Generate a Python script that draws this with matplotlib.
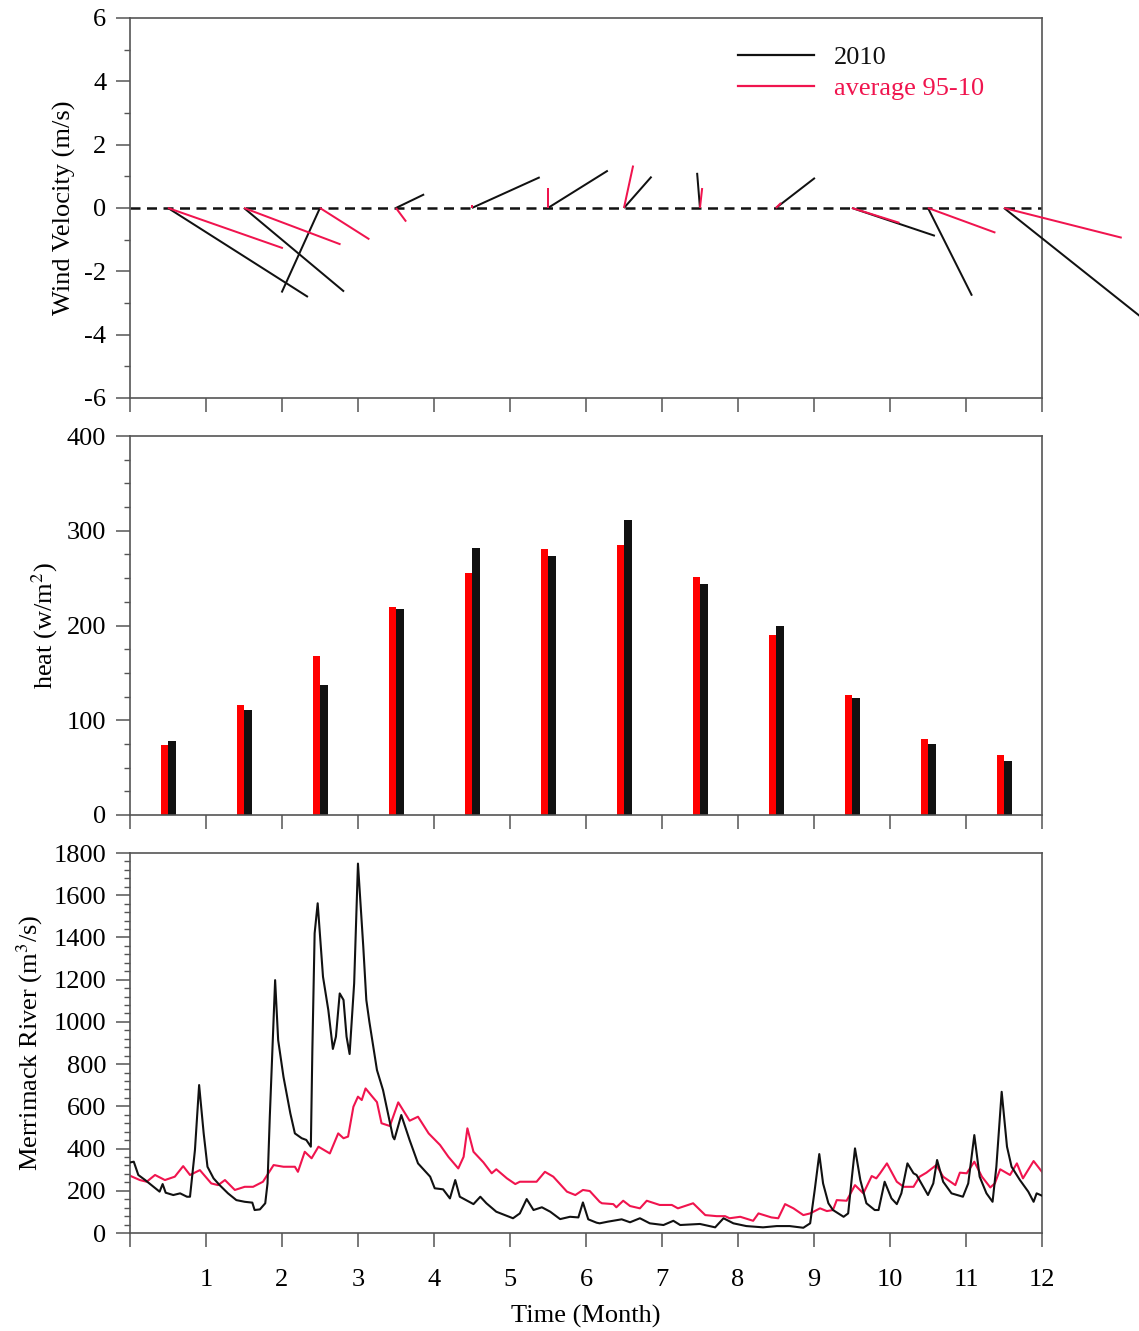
import numpy as np
import matplotlib
matplotlib.use("Agg")
import matplotlib.pyplot as plt
from matplotlib.ticker import MultipleLocator

plt.rcParams['font.family'] = ['Liberation Serif', 'DejaVu Serif']
plt.rcParams['font.size'] = 19
plt.rcParams['mathtext.fontset'] = 'stix'
plt.rcParams['axes.unicode_minus'] = False

black = '#111111'
red_line = '#F0144E'
red_bar = '#FF0000'
spine_col = '#555555'

# --- wind (monthly mean vectors, m/s) ---
wind_months = np.arange(1, 13) - 0.5
u_2010 = [4.42, 3.16, -1.21, 0.89, 2.14, 1.89, 0.87, -0.09, 1.23, 2.62, 1.39, 4.40]
v_2010 = [-2.81, -2.64, -2.67, 0.43, 0.97, 1.18, 0.99, 1.11, 0.95, -0.88, -2.77, -3.50]
u_avg = [3.63, 3.05, 1.56, 0.32, 0.00, 0.00, 0.29, 0.07, 0.16, 1.50, 2.13, 3.72]
v_avg = [-1.27, -1.15, -0.99, -0.43, 0.10, 0.62, 1.34, 0.63, 0.16, -0.47, -0.78, -0.94]

# --- heat flux (w/m2) ---
heat_months = np.arange(1, 13) - 0.5
heat_avg = [74, 116, 168, 220, 255, 281, 285, 251, 190, 127, 80, 63]
heat_2010 = [78, 111, 137, 217, 282, 273, 311, 244, 199, 123, 75, 57]

# --- Merrimack River discharge (m3/s) ---
t_2010 = [0.01, 0.05, 0.11, 0.20, 0.31, 0.39, 0.43, 0.47, 0.57, 0.66, 0.75, 0.79,
          0.855, 0.91, 0.97, 1.02, 1.10, 1.18, 1.29, 1.40, 1.51, 1.61, 1.64, 1.71,
          1.78, 1.81, 1.84, 1.91, 1.95, 2.02, 2.11, 2.17, 2.26, 2.32, 2.38, 2.40,
          2.43, 2.47, 2.54, 2.61, 2.67, 2.71, 2.76, 2.81, 2.85, 2.89, 2.95, 3.00,
          3.07, 3.11, 3.15, 3.25, 3.33, 3.46, 3.48, 3.57, 3.68, 3.79, 3.95, 4.01,
          4.12, 4.21, 4.28, 4.34, 4.52, 4.61, 4.69, 4.82, 5.04, 5.13, 5.22, 5.31,
          5.42, 5.53, 5.66, 5.79, 5.90, 5.96, 6.03, 6.14, 6.18, 6.29, 6.47, 6.58,
          6.71, 6.84, 7.02, 7.15, 7.24, 7.50, 7.70, 7.81, 7.94, 8.11, 8.33, 8.51,
          8.68, 8.86, 8.95, 9.01, 9.07, 9.12, 9.19, 9.25, 9.39, 9.45, 9.50, 9.54,
          9.61, 9.69, 9.80, 9.85, 9.93, 10.02, 10.09, 10.15, 10.23, 10.31, 10.35,
          10.50, 10.57, 10.62, 10.70, 10.81, 10.96, 11.03, 11.11, 11.18, 11.27,
          11.35, 11.40, 11.47, 11.54, 11.60, 11.71, 11.82, 11.89, 11.93, 12.0]
q_2010 = [335, 338, 275, 251, 219, 196, 232, 191, 180, 188, 172, 172,
          393, 701, 472, 314, 259, 227, 188, 156, 148, 144, 109, 112,
          141, 235, 551, 1198, 914, 740, 567, 472, 449, 441, 409, 867,
          1420, 1562, 1214, 1056, 872, 930, 1135, 1104, 930, 848, 1183, 1750,
          1356, 1104, 1001, 772, 677, 456, 444, 559, 440, 330, 267, 212,
          207, 164, 251, 172, 137, 172, 141, 101, 70, 93, 161, 109,
          122, 101, 66, 77, 74, 145, 65, 49, 46, 54, 65, 51,
          70, 46, 38, 58, 38, 43, 27, 70, 46, 33, 27, 33,
          33, 25, 46, 204, 374, 235, 141, 109, 77, 93, 267, 401,
          251, 141, 109, 109, 243, 164, 137, 188, 330, 283, 275,
          180, 235, 346, 243, 188, 172, 235, 464, 267, 188,
          148, 314, 669, 409, 314, 251, 196, 148, 188, 177]

t_avg = [0.01, 0.13, 0.22, 0.33, 0.46, 0.59, 0.70, 0.79, 0.92, 1.07, 1.16, 1.25,
         1.38, 1.51, 1.62, 1.75, 1.89, 2.02, 2.17, 2.21, 2.30, 2.39, 2.48, 2.63,
         2.74, 2.81, 2.87, 2.94, 3.00, 3.05, 3.10, 3.18, 3.25, 3.31, 3.42, 3.53,
         3.68, 3.79, 3.93, 4.08, 4.19, 4.32, 4.39, 4.44, 4.52, 4.65, 4.76, 4.82,
         4.96, 5.07, 5.13, 5.35, 5.46, 5.57, 5.75, 5.86, 5.96, 6.05, 6.18, 6.21,
         6.36, 6.40, 6.49, 6.58, 6.71, 6.80, 6.97, 7.13, 7.21, 7.41, 7.57, 7.72,
         7.83, 7.89, 8.03, 8.20, 8.27, 8.44, 8.53, 8.62, 8.73, 8.86, 8.95, 9.08,
         9.17, 9.25, 9.30, 9.43, 9.54, 9.65, 9.76, 9.82, 9.87, 9.96, 10.09, 10.18,
         10.31, 10.39, 10.48, 10.61, 10.70, 10.86, 10.92, 11.01, 11.11, 11.21,
         11.32, 11.38, 11.45, 11.58, 11.67, 11.75, 11.89, 12.0]
q_avg = [270, 251, 243, 275, 251, 267, 317, 275, 298, 235, 227, 251,
         204, 219, 219, 243, 322, 314, 314, 290, 385, 354, 409, 377,
         472, 449, 457, 598, 646, 630, 685, 650, 620, 520, 507, 619,
         532, 551, 472, 417, 361, 306, 361, 496, 385, 335, 283, 302,
         259, 232, 243, 243, 290, 267, 196, 180, 204, 199, 148, 141,
         137, 122, 153, 128, 117, 153, 133, 133, 117, 141, 85, 80,
         80, 70, 77, 58, 93, 74, 70, 137, 117, 85, 93, 117,
         104, 109, 156, 153, 227, 188, 270, 259, 283, 330, 243, 219,
         219, 267, 286, 322, 267, 227, 286, 283, 338, 267,
         216, 235, 302, 275, 330, 259, 341, 290]

month_ticks = np.arange(0, 13)

fig = plt.figure(figsize=(11.39, 13.31), dpi=100)
ax1 = fig.add_axes([0.1141, 0.7010, 0.8007, 0.2855])
ax2 = fig.add_axes([0.1141, 0.3877, 0.8007, 0.2847])
ax3 = fig.add_axes([0.1141, 0.0736, 0.8007, 0.2855])

for ax in (ax1, ax2, ax3):
    ax.set_xlim(0, 12)
    ax.set_xticks(month_ticks)
    for s in ax.spines.values():
        s.set_color(spine_col)
        s.set_linewidth(1.2)
    ax.tick_params(which='major', direction='out', length=10, width=1.1,
                   color=spine_col, top=False, right=False)
    ax.tick_params(which='minor', direction='out', length=4.5, width=1.0,
                   color=spine_col, top=False, right=False)
    ax.tick_params(axis='y', pad=7)

# panel 1: wind sticks
ax1.set_ylim(-6, 6)
ax1.yaxis.set_major_locator(MultipleLocator(2))
ax1.yaxis.set_minor_locator(MultipleLocator(1))
ax1.set_xticklabels([])
ax1.axhline(0, color=black, lw=1.8, ls=(0, (4, 2.6)), zorder=1)
q1 = ax1.quiver(wind_months, np.zeros(12), u_2010, v_2010, angles='uv',
                scale_units='y', scale=1, units='dots', width=2.0,
                headwidth=0, headlength=0, headaxislength=0, color=black, zorder=3)
q2 = ax1.quiver(wind_months, np.zeros(12), u_avg, v_avg, angles='uv',
                scale_units='y', scale=1, units='dots', width=2.0,
                headwidth=0, headlength=0, headaxislength=0, color=red_line, zorder=4)
q1.set_clip_on(False)
q2.set_clip_on(False)
ax1.plot([], [], color=black, lw=1.6, label='2010')
ax1.plot([], [], color=red_line, lw=1.6, label='average 95-10')
ax1.legend(loc='upper left', bbox_to_anchor=(0.655, 0.955), frameon=False,
           handlelength=2.9, handletextpad=0.75, labelspacing=0.3,
           borderaxespad=0, labelcolor='linecolor')
ax1.set_ylabel('Wind Velocity (m/s)', labelpad=6)

# panel 2: heat bars
ax2.set_ylim(0, 400)
ax2.yaxis.set_major_locator(MultipleLocator(100))
ax2.yaxis.set_minor_locator(MultipleLocator(25))
ax2.set_xticklabels([])
ax2.bar(heat_months - 0.046, heat_avg, width=0.1, color=red_bar, zorder=2)
ax2.bar(heat_months + 0.052, heat_2010, width=0.1, color=black, zorder=2)
ax2.set_ylabel('heat (w/m$^2$)', labelpad=5)

# panel 3: river discharge
ax3.set_ylim(0, 1800)
ax3.yaxis.set_major_locator(MultipleLocator(200))
ax3.yaxis.set_minor_locator(MultipleLocator(40))
ax3.set_xticklabels([''] + [str(m) for m in month_ticks[1:]])
ax3.tick_params(axis='x', pad=16)
ax3.plot(t_avg, q_avg, color=red_line, lw=1.5, zorder=2)
ax3.plot(t_2010, q_2010, color=black, lw=1.5, zorder=3)
ax3.set_ylabel('Merrimack River (m$^3$/s)', labelpad=6)
ax3.set_xlabel('Time (Month)', labelpad=10)

fig.savefig('out.png', dpi=100)
